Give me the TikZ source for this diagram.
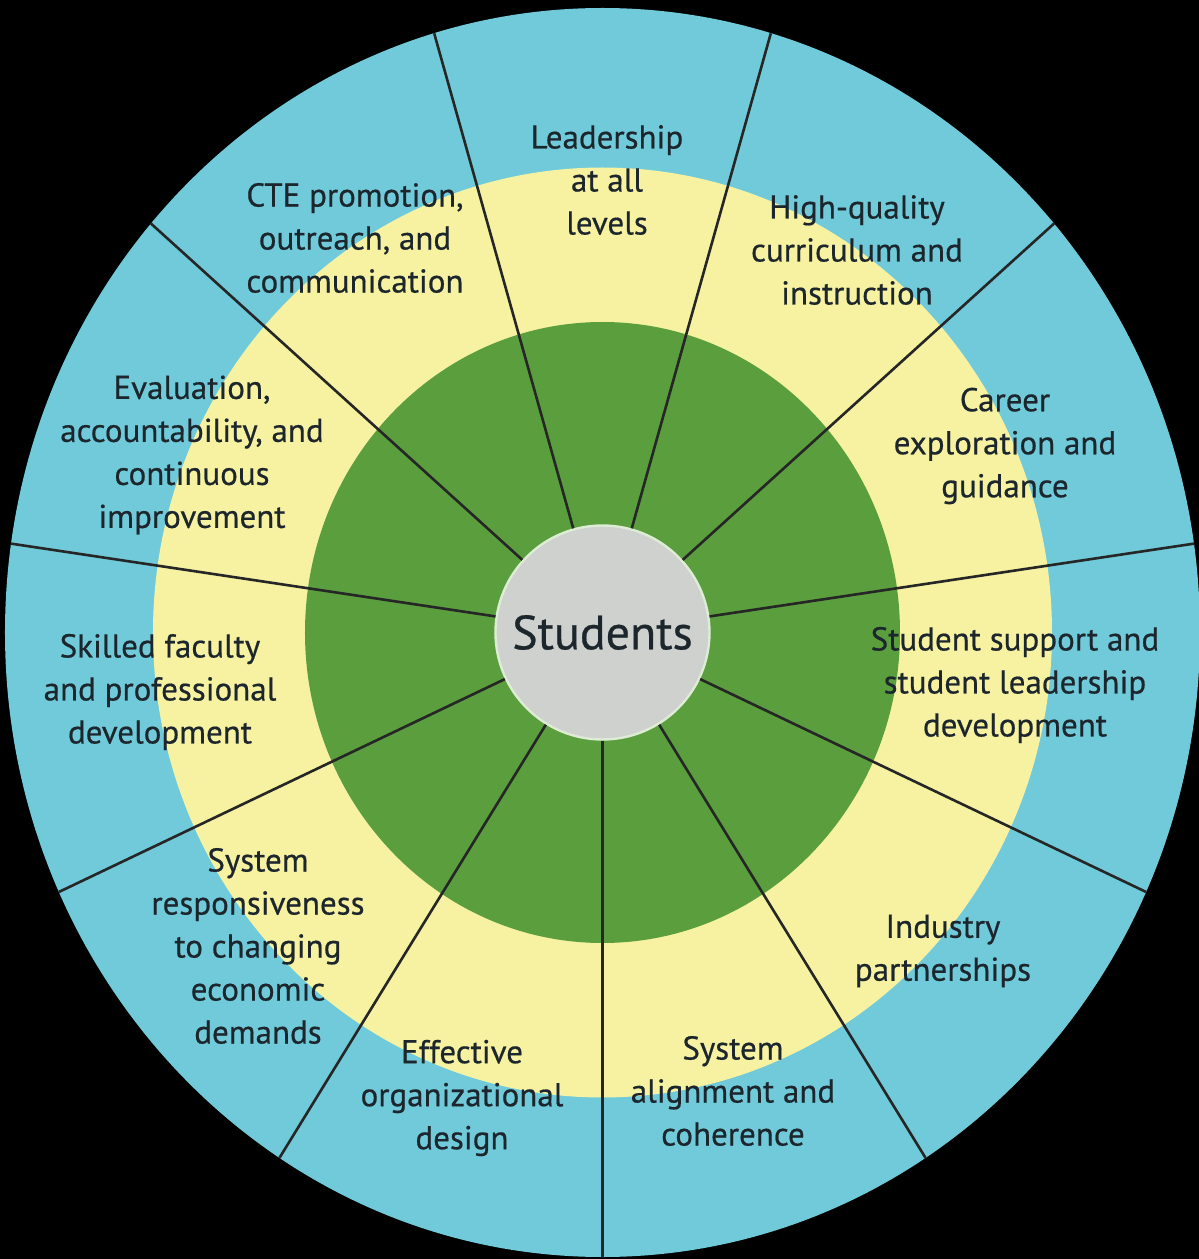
\documentclass[tikz,border=0pt]{standalone}
\usepackage{fontspec}
\setmainfont{PT Sans}
\newfontfamily\wheelfont[FakeBold=0.5]{PT Sans}

\definecolor{ringblue}{RGB}{112,202,218}
\definecolor{ringyellow}{RGB}{246,242,162}
\definecolor{ringgreen}{RGB}{90,158,62}
\definecolor{hubgray}{RGB}{206,209,206}
\definecolor{hubrim}{RGB}{222,236,214}
\definecolor{inkdark}{RGB}{28,38,44}

\begin{document}
\begin{tikzpicture}[x=0.5pt, y=0.5pt]
        \tikzstyle{hub}=[circle, fill=hubgray, draw=hubrim, line width=1.2pt, minimum size=107pt, inner sep=0pt, font=\wheelfont\fontsize{24}{28}\selectfont, text=inkdark]
        \tikzstyle{topic}=[align=center, inner sep=0pt, text=inkdark, font=\wheelfont\fontsize{16.5}{21.5}\selectfont]
        \tikzstyle{spoke}=[draw=black!85, line width=1.3pt]

        % background and rings
        \fill[black] (-602.5,-626.5) rectangle (596.5,632.5);
        \useasboundingbox (-602.5,-626.5) rectangle (596.5,632.5);
        \fill[ringblue] (0,0) ellipse [x radius=597.5, y radius=624.5];
        \fill[ringyellow] (0,0) ellipse [x radius=449.5, y radius=465];
        \fill[ringgreen] (0,0) ellipse [x radius=297.5, y radius=310.5];

        \node[hub] (students) at (0,0) {Students};

        % dividers
        \foreach \k in {0,...,10}{
            \pgfmathsetmacro{\ang}{-90+\k*360/11}
            \coordinate (rim\k) at ({597.5*cos(\ang)},{624.5*sin(\ang)});
            \draw[spoke] (students) -- (rim\k);
        }

        \node[topic] (lead) at (4.5,452.5) {Leadership\\at all\\levels};
        \node[topic] (curric) at (254.5,382.5) {High-quality\\curriculum and\\instruction};
        \node[topic] (career) at (402.5,186.5) {Career\\exploration and\\guidance};
        \node[topic] (support) at (412.5,-52.5) {Student support and\\student leadership\\development};
        \node[topic] (industry) at (340.5,-318.5) {Industry\\partnerships};
        \node[topic] (align) at (130.5,-458.5) {System\\alignment and\\coherence};
        \node[topic] (orgdesign) at (-140.5,-465.5) {Effective\\organizational\\design};
        \node[topic] (respons) at (-344.5,-313.5) {System\\responsiveness\\to changing\\economic\\demands};
        \node[topic] (faculty) at (-442.5,-59.5) {Skilled faculty\\and professional\\development};
        \node[topic] (evalu) at (-410.5,177.5) {Evaluation,\\accountability, and\\continuous\\improvement};
        \node[topic] (promo) at (-247.5,394.5) {CTE promotion,\\outreach, and\\communication};
    \end{tikzpicture}
\end{document}
